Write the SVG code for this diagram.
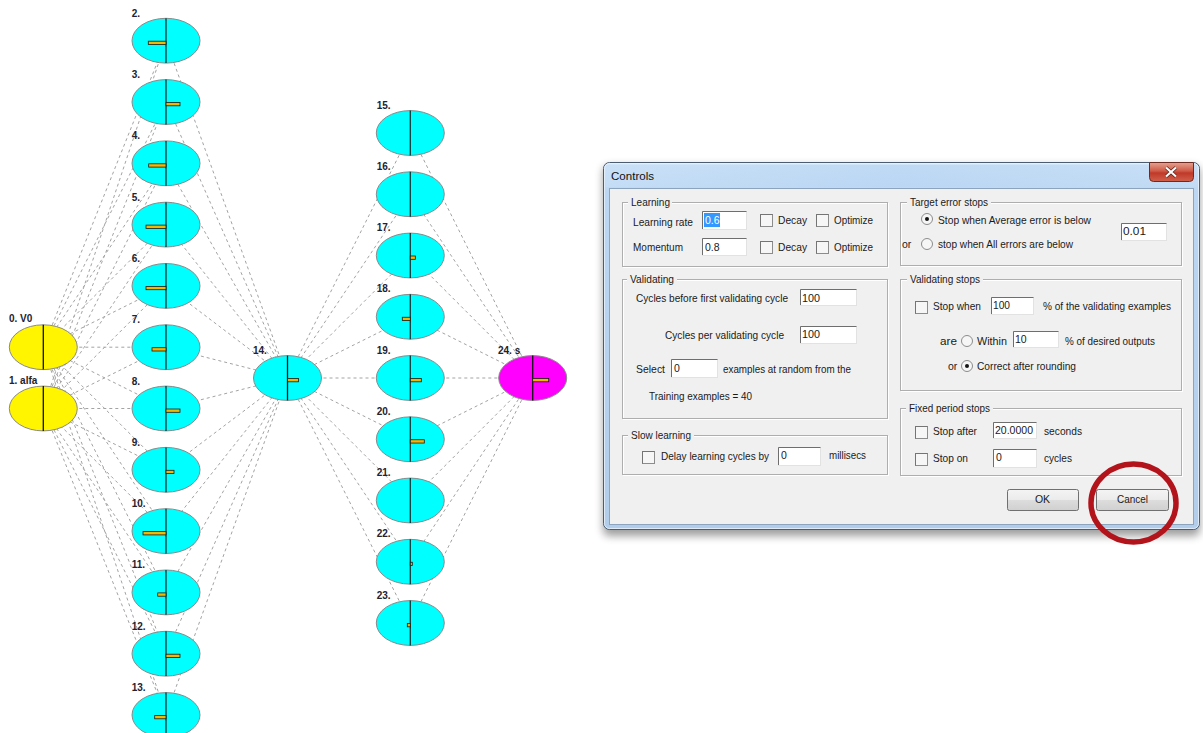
<svg xmlns="http://www.w3.org/2000/svg" width="1203" height="733" viewBox="0 0 1203 733">
<defs>
<style>
.conn line { stroke:#a3a3a3; stroke-width:1; stroke-dasharray:3 3; fill:none }
.hid { fill:#00ffff; stroke:#8a8a8a; stroke-width:1 }
.inp { fill:#fff500; stroke:#8a8a8a; stroke-width:1 }
.outp { fill:#ff00ff; stroke:#8a8a8a; stroke-width:1 }
.axis { stroke:#0a3636; stroke-width:1.3 }
.axis-k { stroke:#111111; stroke-width:1.3 }
.bar { fill:#f2b705; stroke:#1a1a1a; stroke-width:0.8 }
.lbl { font-family:"Liberation Sans", Arial, sans-serif; font-weight:bold; font-size:10px; fill:#222230 }
.ui { font-family:"Liberation Sans", Arial, sans-serif; font-size:10.5px; fill:#1a1a1a }
.grp { fill:none; stroke:#aeaeae; stroke-width:1 }
.grp-hi { fill:none; stroke:#ffffff; stroke-width:1 }
.gbg { fill:#f0f0f0 }
.edit { fill:#ffffff; stroke:#e2e2e2; stroke-width:1 }
.edit-sh { fill:none; stroke:#6e6e6e; stroke-width:1 }
.chk { fill:#f6f6f6; stroke:#8c8c8c; stroke-width:1 }
.chk-sh { fill:none; stroke:#5c5c5c; stroke-width:1 }
.rad { fill:#f6f6f6; stroke:#8c8c8c; stroke-width:1 }
.dot { fill:#151515 }
.btn { fill:url(#btnGrad); stroke:#707070; stroke-width:1 }
</style>
<linearGradient id="frameGrad" x1="0" y1="0" x2="0" y2="1">
<stop offset="0" stop-color="#d3e6f9"/>
<stop offset="0.08" stop-color="#bcd7f3"/>
<stop offset="1" stop-color="#b2cde9"/>
</linearGradient>
<linearGradient id="titleGrad" x1="0" y1="0" x2="1" y2="0">
<stop offset="0" stop-color="#c6def6"/>
<stop offset="0.5" stop-color="#b8d5f3"/>
<stop offset="1" stop-color="#c4dcf5"/>
</linearGradient>
<linearGradient id="closeGrad" x1="0" y1="0" x2="0" y2="1">
<stop offset="0" stop-color="#e4a393"/>
<stop offset="0.45" stop-color="#cf5a45"/>
<stop offset="0.55" stop-color="#c0392a"/>
<stop offset="1" stop-color="#d0604a"/>
</linearGradient>
<linearGradient id="btnGrad" x1="0" y1="0" x2="0" y2="1">
<stop offset="0" stop-color="#f4f4f4"/>
<stop offset="0.5" stop-color="#ebebeb"/>
<stop offset="0.5" stop-color="#dddddd"/>
<stop offset="1" stop-color="#d0d0d0"/>
</linearGradient>
<filter id="soft" x="-5%" y="-5%" width="110%" height="115%">
<feGaussianBlur stdDeviation="4"/>
</filter>
</defs>

<rect x="0" y="0" width="1203" height="733" fill="#ffffff"/>

<!-- network connections -->
<g id="connectors" class="conn">
<line x1="43.3" y1="347.2" x2="166" y2="40.7"/>
<line x1="43.3" y1="347.2" x2="166" y2="102"/>
<line x1="43.3" y1="347.2" x2="166" y2="163.3"/>
<line x1="43.3" y1="347.2" x2="166" y2="224.6"/>
<line x1="43.3" y1="347.2" x2="166" y2="285.9"/>
<line x1="43.3" y1="347.2" x2="166" y2="347.2"/>
<line x1="43.3" y1="347.2" x2="166" y2="408.5"/>
<line x1="43.3" y1="347.2" x2="166" y2="469.8"/>
<line x1="43.3" y1="347.2" x2="166" y2="531.1"/>
<line x1="43.3" y1="347.2" x2="166" y2="592.4"/>
<line x1="43.3" y1="347.2" x2="166" y2="653.7"/>
<line x1="43.3" y1="347.2" x2="166" y2="715"/>
<line x1="43.3" y1="408.5" x2="166" y2="40.7"/>
<line x1="43.3" y1="408.5" x2="166" y2="102"/>
<line x1="43.3" y1="408.5" x2="166" y2="163.3"/>
<line x1="43.3" y1="408.5" x2="166" y2="224.6"/>
<line x1="43.3" y1="408.5" x2="166" y2="285.9"/>
<line x1="43.3" y1="408.5" x2="166" y2="347.2"/>
<line x1="43.3" y1="408.5" x2="166" y2="408.5"/>
<line x1="43.3" y1="408.5" x2="166" y2="469.8"/>
<line x1="43.3" y1="408.5" x2="166" y2="531.1"/>
<line x1="43.3" y1="408.5" x2="166" y2="592.4"/>
<line x1="43.3" y1="408.5" x2="166" y2="653.7"/>
<line x1="43.3" y1="408.5" x2="166" y2="715"/>
<line x1="166" y1="40.7" x2="287.5" y2="378"/>
<line x1="166" y1="102" x2="287.5" y2="378"/>
<line x1="166" y1="163.3" x2="287.5" y2="378"/>
<line x1="166" y1="224.6" x2="287.5" y2="378"/>
<line x1="166" y1="285.9" x2="287.5" y2="378"/>
<line x1="166" y1="347.2" x2="287.5" y2="378"/>
<line x1="166" y1="408.5" x2="287.5" y2="378"/>
<line x1="166" y1="469.8" x2="287.5" y2="378"/>
<line x1="166" y1="531.1" x2="287.5" y2="378"/>
<line x1="166" y1="592.4" x2="287.5" y2="378"/>
<line x1="166" y1="653.7" x2="287.5" y2="378"/>
<line x1="166" y1="715" x2="287.5" y2="378"/>
<line x1="287.5" y1="378" x2="410.3" y2="133"/>
<line x1="287.5" y1="378" x2="410.3" y2="194.25"/>
<line x1="287.5" y1="378" x2="410.3" y2="255.5"/>
<line x1="287.5" y1="378" x2="410.3" y2="316.75"/>
<line x1="287.5" y1="378" x2="410.3" y2="378"/>
<line x1="287.5" y1="378" x2="410.3" y2="439.25"/>
<line x1="287.5" y1="378" x2="410.3" y2="500.5"/>
<line x1="287.5" y1="378" x2="410.3" y2="561.75"/>
<line x1="287.5" y1="378" x2="410.3" y2="623"/>
<line x1="410.3" y1="133" x2="532.7" y2="378"/>
<line x1="410.3" y1="194.25" x2="532.7" y2="378"/>
<line x1="410.3" y1="255.5" x2="532.7" y2="378"/>
<line x1="410.3" y1="316.75" x2="532.7" y2="378"/>
<line x1="410.3" y1="378" x2="532.7" y2="378"/>
<line x1="410.3" y1="439.25" x2="532.7" y2="378"/>
<line x1="410.3" y1="500.5" x2="532.7" y2="378"/>
<line x1="410.3" y1="561.75" x2="532.7" y2="378"/>
<line x1="410.3" y1="623" x2="532.7" y2="378"/>
</g>

<!-- input neurons -->
<g id="node-0">
<ellipse class="inp" cx="43.3" cy="347.2" rx="34" ry="22.4"/>
<line class="axis-k" x1="43.3" y1="324.8" x2="43.3" y2="369.6"/>
<text class="lbl" x="9" y="322">0. V0</text>
</g>
<g id="node-1">
<ellipse class="inp" cx="43.3" cy="408.5" rx="34" ry="22.4"/>
<line class="axis-k" x1="43.3" y1="386.1" x2="43.3" y2="430.9"/>
<text class="lbl" x="9" y="384">1. alfa</text>
</g>

<!-- first hidden layer -->
<g id="node-2">
<ellipse class="hid" cx="166" cy="40.7" rx="34" ry="22.4"/>
<line class="axis" x1="166" y1="18.3" x2="166" y2="63.1"/>
<rect class="bar" x="148.3" y="41.2" width="17.7" height="3.3"/>
<text class="lbl" x="131.7" y="16.7">2.</text>
</g>
<g id="node-3">
<ellipse class="hid" cx="166" cy="102" rx="34" ry="22.4"/>
<line class="axis" x1="166" y1="79.6" x2="166" y2="124.4"/>
<rect class="bar" x="166" y="102.5" width="14" height="3.3"/>
<text class="lbl" x="131.7" y="78">3.</text>
</g>
<g id="node-4">
<ellipse class="hid" cx="166" cy="163.3" rx="34" ry="22.4"/>
<line class="axis" x1="166" y1="140.9" x2="166" y2="185.7"/>
<rect class="bar" x="148.7" y="163.8" width="17.3" height="3.3"/>
<text class="lbl" x="131.7" y="139.3">4.</text>
</g>
<g id="node-5">
<ellipse class="hid" cx="166" cy="224.6" rx="34" ry="22.4"/>
<line class="axis" x1="166" y1="202.2" x2="166" y2="247"/>
<rect class="bar" x="146" y="225.1" width="20" height="3.3"/>
<text class="lbl" x="131.7" y="200.6">5.</text>
</g>
<g id="node-6">
<ellipse class="hid" cx="166" cy="285.9" rx="34" ry="22.4"/>
<line class="axis" x1="166" y1="263.5" x2="166" y2="308.3"/>
<rect class="bar" x="146" y="286.4" width="20" height="3.3"/>
<text class="lbl" x="131.7" y="261.9">6.</text>
</g>
<g id="node-7">
<ellipse class="hid" cx="166" cy="347.2" rx="34" ry="22.4"/>
<line class="axis" x1="166" y1="324.8" x2="166" y2="369.6"/>
<rect class="bar" x="152" y="347.7" width="14" height="3.3"/>
<text class="lbl" x="131.7" y="323.2">7.</text>
</g>
<g id="node-8">
<ellipse class="hid" cx="166" cy="408.5" rx="34" ry="22.4"/>
<line class="axis" x1="166" y1="386.1" x2="166" y2="430.9"/>
<rect class="bar" x="166" y="409" width="14" height="3.3"/>
<text class="lbl" x="131.7" y="384.5">8.</text>
</g>
<g id="node-9">
<ellipse class="hid" cx="166" cy="469.8" rx="34" ry="22.4"/>
<line class="axis" x1="166" y1="447.4" x2="166" y2="492.2"/>
<rect class="bar" x="166" y="470.3" width="8" height="3.3"/>
<text class="lbl" x="131.7" y="445.8">9.</text>
</g>
<g id="node-10">
<ellipse class="hid" cx="166" cy="531.1" rx="34" ry="22.4"/>
<line class="axis" x1="166" y1="508.7" x2="166" y2="553.5"/>
<rect class="bar" x="143" y="531.6" width="23" height="3.3"/>
<text class="lbl" x="131.7" y="507.1">10.</text>
</g>
<g id="node-11">
<ellipse class="hid" cx="166" cy="592.4" rx="34" ry="22.4"/>
<line class="axis" x1="166" y1="570" x2="166" y2="614.8"/>
<rect class="bar" x="157.7" y="592.9" width="8.3" height="3.3"/>
<text class="lbl" x="131.7" y="568.4">11.</text>
</g>
<g id="node-12">
<ellipse class="hid" cx="166" cy="653.7" rx="34" ry="22.4"/>
<line class="axis" x1="166" y1="631.3" x2="166" y2="676.1"/>
<rect class="bar" x="166" y="654.2" width="14" height="3.3"/>
<text class="lbl" x="131.7" y="629.7">12.</text>
</g>
<g id="node-13">
<ellipse class="hid" cx="166" cy="715" rx="34" ry="22.4"/>
<line class="axis" x1="166" y1="692.6" x2="166" y2="737.4"/>
<rect class="bar" x="154.7" y="715.5" width="11.3" height="3.3"/>
<text class="lbl" x="131.7" y="691">13.</text>
</g>

<!-- second hidden layer -->
<g id="node-14">
<ellipse class="hid" cx="287.5" cy="378" rx="34" ry="22.4"/>
<line class="axis-k" x1="287.5" y1="355.6" x2="287.5" y2="400.4"/>
<rect class="bar" x="287.5" y="378.5" width="11" height="3.3"/>
<text class="lbl" x="253" y="354">14.</text>
</g>

<!-- third hidden layer -->
<g id="node-15">
<ellipse class="hid" cx="410.3" cy="133" rx="34" ry="22.4"/>
<line class="axis" x1="410.3" y1="110.6" x2="410.3" y2="155.4"/>
<text class="lbl" x="376.7" y="108.5">15.</text>
</g>
<g id="node-16">
<ellipse class="hid" cx="410.3" cy="194.25" rx="34" ry="22.4"/>
<line class="axis" x1="410.3" y1="171.85" x2="410.3" y2="216.65"/>
<text class="lbl" x="376.7" y="169.75">16.</text>
</g>
<g id="node-17">
<ellipse class="hid" cx="410.3" cy="255.5" rx="34" ry="22.4"/>
<line class="axis" x1="410.3" y1="233.1" x2="410.3" y2="277.9"/>
<rect class="bar" x="410.3" y="256" width="5" height="3.3"/>
<text class="lbl" x="376.7" y="231">17.</text>
</g>
<g id="node-18">
<ellipse class="hid" cx="410.3" cy="316.75" rx="34" ry="22.4"/>
<line class="axis" x1="410.3" y1="294.35" x2="410.3" y2="339.15"/>
<rect class="bar" x="402.3" y="317.25" width="8" height="3.3"/>
<text class="lbl" x="376.7" y="292.25">18.</text>
</g>
<g id="node-19">
<ellipse class="hid" cx="410.3" cy="378" rx="34" ry="22.4"/>
<line class="axis" x1="410.3" y1="355.6" x2="410.3" y2="400.4"/>
<rect class="bar" x="410.3" y="378.5" width="11" height="3.3"/>
<text class="lbl" x="376.7" y="353.5">19.</text>
</g>
<g id="node-20">
<ellipse class="hid" cx="410.3" cy="439.25" rx="34" ry="22.4"/>
<line class="axis" x1="410.3" y1="416.85" x2="410.3" y2="461.65"/>
<rect class="bar" x="410.3" y="439.75" width="14" height="3.3"/>
<text class="lbl" x="376.7" y="414.75">20.</text>
</g>
<g id="node-21">
<ellipse class="hid" cx="410.3" cy="500.5" rx="34" ry="22.4"/>
<line class="axis" x1="410.3" y1="478.1" x2="410.3" y2="522.9"/>
<text class="lbl" x="376.7" y="476">21.</text>
</g>
<g id="node-22">
<ellipse class="hid" cx="410.3" cy="561.75" rx="34" ry="22.4"/>
<line class="axis" x1="410.3" y1="539.35" x2="410.3" y2="584.15"/>
<rect class="bar" x="410.3" y="562.25" width="2" height="3.3"/>
<text class="lbl" x="376.7" y="537.25">22.</text>
</g>
<g id="node-23">
<ellipse class="hid" cx="410.3" cy="623" rx="34" ry="22.4"/>
<line class="axis" x1="410.3" y1="600.6" x2="410.3" y2="645.4"/>
<rect class="bar" x="407.3" y="623.5" width="3" height="3.3"/>
<text class="lbl" x="376.7" y="598.5">23.</text>
</g>

<!-- output neuron -->
<g id="node-24">
<ellipse class="outp" cx="532.7" cy="378" rx="34" ry="22.4"/>
<line class="axis-k" x1="532.7" y1="355.6" x2="532.7" y2="400.4"/>
<rect class="bar" x="532.7" y="378.5" width="16" height="3.3"/>
<text class="lbl" x="498" y="354">24. s</text>
</g>

<!-- Controls dialog -->
<g id="dialog">
<rect x="603" y="166" width="597" height="370" rx="6" fill="#000000" opacity="0.38" filter="url(#soft)"/>
<rect x="603.5" y="162.5" width="596" height="367" rx="6" fill="url(#frameGrad)" stroke="#4a5d72"/>
<rect x="604.5" y="163.5" width="594" height="365" rx="5" fill="none" stroke="#eaf3fc" stroke-opacity="0.8"/>
<rect x="606" y="165" width="591" height="22" fill="url(#titleGrad)" opacity="0.7"/>
<text x="611" y="180" font-family="'Liberation Sans', Arial, sans-serif" font-size="11.5" fill="#111111" textLength="43" lengthAdjust="spacingAndGlyphs">Controls</text>

<!-- close button -->
<path d="M1149.5,162.5 H1193.5 V177.5 Q1193.5,181.5 1189.5,181.5 H1153.5 Q1149.5,181.5 1149.5,177.5 Z" fill="url(#closeGrad)" stroke="#6d2a20"/>
<path d="M1166,167.5 L1176,176.5 M1176,167.5 L1166,176.5" stroke="#5a2018" stroke-width="3.6"/>
<path d="M1166,167.5 L1176,176.5 M1176,167.5 L1166,176.5" stroke="#ffffff" stroke-width="2.2"/>

<!-- client area -->
<rect x="609.5" y="188.5" width="584" height="336" fill="#f0f0f0" stroke="#8da4bf"/>

<!-- Learning -->
<rect class="grp-hi" x="623.5" y="203.5" width="265" height="64"/>
<rect class="grp" x="622.5" y="202.5" width="265" height="64"/>
<rect class="gbg" x="628" y="196" width="44" height="12"/>
<text class="ui" x="631" y="206" textLength="39" lengthAdjust="spacingAndGlyphs">Learning</text>
<text class="ui" x="633" y="226" textLength="60" lengthAdjust="spacingAndGlyphs">Learning rate</text>
<rect class="edit" x="702.5" y="211.5" width="44" height="18"/>
<path class="edit-sh" d="M702.5,229 V211.5 H746.5"/>
<rect x="704" y="213" width="16" height="14" fill="#3399ff"/>
<text class="ui" x="705" y="224" fill="#ffffff" style="fill:#ffffff">0.6</text>
<rect class="chk" x="760.5" y="214.5" width="12" height="12"/>
<path class="chk-sh" d="M760.5,226.5 V214.5 H772.5" opacity="0.5"/>
<text class="ui" x="778" y="224" textLength="29" lengthAdjust="spacingAndGlyphs">Decay</text>
<rect class="chk" x="816.5" y="214.5" width="12" height="12"/>
<path class="chk-sh" d="M816.5,226.5 V214.5 H828.5" opacity="0.5"/>
<text class="ui" x="834" y="224" textLength="39" lengthAdjust="spacingAndGlyphs">Optimize</text>
<text class="ui" x="633" y="251" textLength="50" lengthAdjust="spacingAndGlyphs">Momentum</text>
<rect class="edit" x="702.5" y="238.5" width="44" height="17"/>
<path class="edit-sh" d="M702.5,255 V238.5 H746.5"/>
<text class="ui" x="705" y="250.5">0.8</text>
<rect class="chk" x="760.5" y="241.5" width="12" height="12"/>
<path class="chk-sh" d="M760.5,253.5 V241.5 H772.5" opacity="0.5"/>
<text class="ui" x="778" y="251" textLength="29" lengthAdjust="spacingAndGlyphs">Decay</text>
<rect class="chk" x="816.5" y="241.5" width="12" height="12"/>
<path class="chk-sh" d="M816.5,253.5 V241.5 H828.5" opacity="0.5"/>
<text class="ui" x="834" y="251" textLength="39" lengthAdjust="spacingAndGlyphs">Optimize</text>

<!-- Target error stops -->
<rect class="grp-hi" x="901.5" y="203.5" width="281" height="63"/>
<rect class="grp" x="900.5" y="202.5" width="281" height="63"/>
<rect class="gbg" x="907" y="196" width="84" height="12"/>
<text class="ui" x="910" y="206" textLength="78" lengthAdjust="spacingAndGlyphs">Target error stops</text>
<circle class="rad" cx="927" cy="219" r="5.5"/>
<circle class="dot" cx="927" cy="219" r="2"/>
<text class="ui" x="938" y="223.5" textLength="153" lengthAdjust="spacingAndGlyphs">Stop when Average error is below</text>
<text class="ui" x="902" y="248">or</text>
<circle class="rad" cx="927" cy="244" r="5.5"/>
<text class="ui" x="938" y="248" textLength="135" lengthAdjust="spacingAndGlyphs">stop when All errors are below</text>
<rect class="edit" x="1121.5" y="223.5" width="45" height="17"/>
<path class="edit-sh" d="M1121.5,240 V223.5 H1166.5"/>
<text class="ui" x="1123" y="235" textLength="23" lengthAdjust="spacingAndGlyphs">0.01</text>

<!-- Validating -->
<rect class="grp-hi" x="623.5" y="280.5" width="265" height="139"/>
<rect class="grp" x="622.5" y="279.5" width="265" height="139"/>
<rect class="gbg" x="627" y="273" width="50" height="12"/>
<text class="ui" x="630" y="283" textLength="44" lengthAdjust="spacingAndGlyphs">Validating</text>
<text class="ui" x="636" y="302" textLength="152" lengthAdjust="spacingAndGlyphs">Cycles before first validating cycle</text>
<rect class="edit" x="800.5" y="289.5" width="56" height="16"/>
<path class="edit-sh" d="M800.5,305 V289.5 H856.5"/>
<text class="ui" x="802" y="301.5" textLength="18" lengthAdjust="spacingAndGlyphs">100</text>
<text class="ui" x="665" y="338.5" textLength="119" lengthAdjust="spacingAndGlyphs">Cycles per validating cycle</text>
<rect class="edit" x="800.5" y="326.5" width="56" height="17"/>
<path class="edit-sh" d="M800.5,343 V326.5 H856.5"/>
<text class="ui" x="802" y="338" textLength="18" lengthAdjust="spacingAndGlyphs">100</text>
<text class="ui" x="636" y="373" textLength="29" lengthAdjust="spacingAndGlyphs">Select</text>
<rect class="edit" x="671.5" y="359.5" width="46" height="18"/>
<path class="edit-sh" d="M671.5,377 V359.5 H717.5"/>
<text class="ui" x="674" y="371.5">0</text>
<text class="ui" x="723" y="373" textLength="128" lengthAdjust="spacingAndGlyphs">examples at random from the</text>
<text class="ui" x="649" y="400" textLength="103" lengthAdjust="spacingAndGlyphs">Training examples = 40</text>

<!-- Validating stops -->
<rect class="grp-hi" x="901.5" y="280.5" width="281" height="111"/>
<rect class="grp" x="900.5" y="279.5" width="281" height="111"/>
<rect class="gbg" x="907" y="273" width="76" height="12"/>
<text class="ui" x="910" y="283" textLength="70" lengthAdjust="spacingAndGlyphs">Validating stops</text>
<rect class="chk" x="915.5" y="301.5" width="12" height="12"/>
<path class="chk-sh" d="M915.5,313.5 V301.5 H927.5" opacity="0.5"/>
<text class="ui" x="933" y="310" textLength="48" lengthAdjust="spacingAndGlyphs">Stop when</text>
<rect class="edit" x="991.5" y="297.5" width="42" height="17"/>
<path class="edit-sh" d="M991.5,314 V297.5 H1033.5"/>
<text class="ui" x="993" y="308.5" textLength="17" lengthAdjust="spacingAndGlyphs">100</text>
<text class="ui" x="1043" y="310" textLength="128" lengthAdjust="spacingAndGlyphs">% of the validating examples</text>
<text class="ui" x="940" y="345" textLength="17" lengthAdjust="spacingAndGlyphs">are</text>
<circle class="rad" cx="967" cy="341" r="5.5"/>
<text class="ui" x="977" y="345" textLength="30" lengthAdjust="spacingAndGlyphs">Within</text>
<rect class="edit" x="1013.5" y="331.5" width="45" height="16"/>
<path class="edit-sh" d="M1013.5,347 V331.5 H1058.5"/>
<text class="ui" x="1015" y="343">10</text>
<text class="ui" x="1065" y="345" textLength="90" lengthAdjust="spacingAndGlyphs">% of desired outputs</text>
<text class="ui" x="948" y="369.5">or</text>
<circle class="rad" cx="967" cy="366" r="5.5"/>
<circle class="dot" cx="967" cy="366" r="2"/>
<text class="ui" x="977" y="369.5" textLength="99" lengthAdjust="spacingAndGlyphs">Correct after rounding</text>

<!-- Slow learning -->
<rect class="grp-hi" x="623.5" y="436.5" width="265" height="39"/>
<rect class="grp" x="622.5" y="435.5" width="265" height="39"/>
<rect class="gbg" x="628" y="429" width="66" height="12"/>
<text class="ui" x="631" y="439" textLength="60" lengthAdjust="spacingAndGlyphs">Slow learning</text>
<rect class="chk" x="642.5" y="451.5" width="12" height="12"/>
<path class="chk-sh" d="M642.5,463.5 V451.5 H654.5" opacity="0.5"/>
<text class="ui" x="661" y="459.5" textLength="108" lengthAdjust="spacingAndGlyphs">Delay learning cycles by</text>
<rect class="edit" x="778.5" y="447.5" width="42" height="18"/>
<path class="edit-sh" d="M778.5,465 V447.5 H820.5"/>
<text class="ui" x="781" y="459">0</text>
<text class="ui" x="829" y="459" textLength="37" lengthAdjust="spacingAndGlyphs">millisecs</text>

<!-- Fixed period stops -->
<rect class="grp-hi" x="901.5" y="409.5" width="281" height="67"/>
<rect class="grp" x="900.5" y="408.5" width="281" height="67"/>
<rect class="gbg" x="906" y="402" width="87" height="12"/>
<text class="ui" x="909" y="411.5" textLength="81" lengthAdjust="spacingAndGlyphs">Fixed period stops</text>
<rect class="chk" x="915.5" y="426.5" width="12" height="12"/>
<path class="chk-sh" d="M915.5,438.5 V426.5 H927.5" opacity="0.5"/>
<text class="ui" x="933" y="434.5" textLength="44" lengthAdjust="spacingAndGlyphs">Stop after</text>
<rect class="edit" x="993.5" y="422.5" width="43" height="16"/>
<path class="edit-sh" d="M993.5,438 V422.5 H1036.5"/>
<text class="ui" x="995" y="434" textLength="38" lengthAdjust="spacingAndGlyphs">20.0000</text>
<text class="ui" x="1044" y="434.5" textLength="38" lengthAdjust="spacingAndGlyphs">seconds</text>
<rect class="chk" x="915.5" y="453.5" width="12" height="12"/>
<path class="chk-sh" d="M915.5,465.5 V453.5 H927.5" opacity="0.5"/>
<text class="ui" x="933" y="462" textLength="35" lengthAdjust="spacingAndGlyphs">Stop on</text>
<rect class="edit" x="993.5" y="449.5" width="43" height="18"/>
<path class="edit-sh" d="M993.5,467 V449.5 H1036.5"/>
<text class="ui" x="996" y="461">0</text>
<text class="ui" x="1044" y="461.5" textLength="28" lengthAdjust="spacingAndGlyphs">cycles</text>

<!-- buttons -->
<rect class="btn" x="1007.5" y="489.5" width="71" height="21" rx="2" stroke="#3c3c3c"/>
<text class="ui" x="1042.5" y="503" text-anchor="middle">OK</text>
<rect class="btn" x="1096.5" y="489.5" width="72" height="21" rx="2"/>
<text class="ui" x="1132.5" y="503" text-anchor="middle" textLength="31" lengthAdjust="spacingAndGlyphs">Cancel</text>
</g>

<!-- highlight ring around Cancel -->
<ellipse id="ring" cx="1133.5" cy="503" rx="42.5" ry="39" fill="none" stroke="#b3141c" stroke-width="5.5"/>
</svg>
